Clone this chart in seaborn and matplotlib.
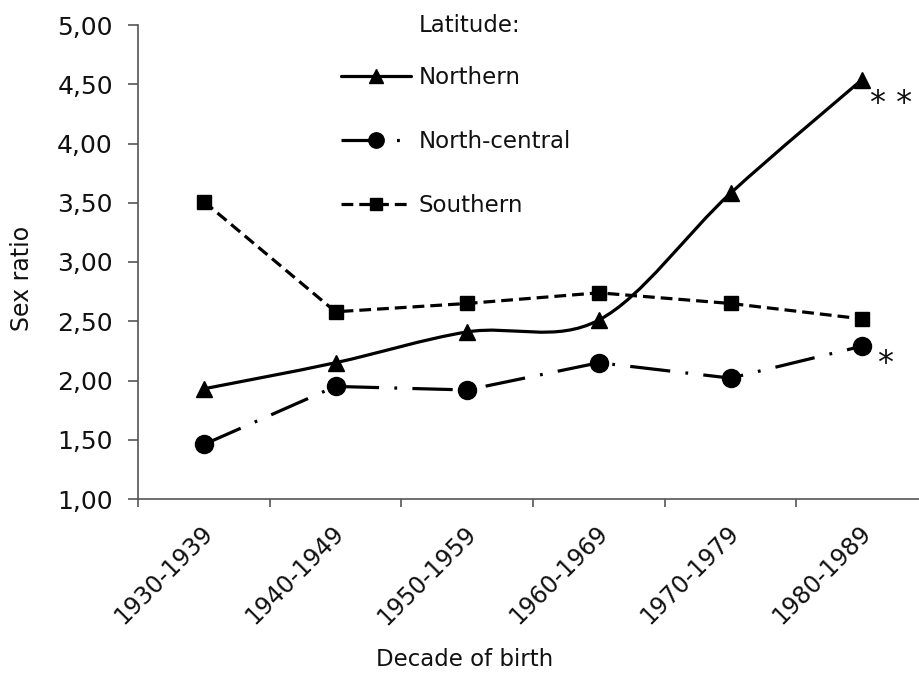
import numpy as np
import pandas as pd
import matplotlib
matplotlib.use("Agg")
import matplotlib.pyplot as plt
import seaborn as sns
from matplotlib.path import Path
from matplotlib.patches import PathPatch
from matplotlib.lines import Line2D
from matplotlib.ticker import FixedLocator, FixedFormatter, NullFormatter, FuncFormatter
import matplotlib.transforms as mtransforms

# ---- data ----
decades = ["1930-1939", "1940-1949", "1950-1959", "1960-1969", "1970-1979", "1980-1989"]
northern = [1.93, 2.15, 2.41, 2.51, 3.58, 4.54]
north_central = [1.46, 1.95, 1.92, 2.15, 2.02, 2.29]
southern = [3.51, 2.58, 2.65, 2.74, 2.65, 2.52]
series_names = ["Northern", "North-central", "Southern"]
yticks = [1.0, 1.5, 2.0, 2.5, 3.0, 3.5, 4.0, 4.5, 5.0]
legend_title = "Latitude:"
xlabel = "Decade of birth"
ylabel = "Sex ratio"
sig_northern = "* *"
sig_north_central = "*"

sns.set_theme(style="ticks")
plt.rcParams["font.family"] = ["DejaVu Sans"]
plt.rcParams["lines.scale_dashes"] = False

TXT = "#111111"
W, H = 919, 673
fig = plt.figure(figsize=(W / 100, H / 100), dpi=100)
fig.patch.set_facecolor("white")
ax = fig.add_axes([138 / W, 1 - 499 / H, (928 - 138) / W, (499 - 25) / H])
ax.set_facecolor("white")

lw = 2.3
styles = {
    "Northern": dict(marker="^", markersize=12, linestyle="-"),
    "North-central": dict(marker="o", markersize=13, linestyle=(0, (29, 11, 2, 11))),
    "Southern": dict(marker="s", markersize=10, linestyle=(0, (8.5, 4.3))),
}
values = {"Northern": northern, "North-central": north_central, "Southern": southern}

for name in series_names:
    st = styles[name]
    sns.lineplot(x=decades, y=values[name], ax=ax, sort=False, color="black",
                 linewidth=lw, marker=st["marker"], markersize=st["markersize"],
                 linestyle=st["linestyle"], markeredgecolor="black",
                 markerfacecolor="black", markeredgewidth=1, zorder=3)

# Northern: smoothed line (Excel-style smoothing) instead of straight segments
north_line = ax.get_lines()[0]
north_line.set_linestyle("None")
xs = np.arange(len(decades), dtype=float)
ys = np.asarray(northern, dtype=float)
pts = np.column_stack([xs, ys])
verts = [tuple(pts[0])]
codes = [Path.MOVETO]
n = len(pts)
for i in range(n - 1):
    p_prev = pts[i - 1] if i > 0 else pts[i]
    p0, p1 = pts[i], pts[i + 1]
    p_next = pts[i + 2] if i + 2 < n else pts[i + 1]
    c1 = p0 + (p1 - p_prev) / 6.0
    c2 = p1 - (p_next - p0) / 6.0
    verts += [tuple(c1), tuple(c2), tuple(p1)]
    codes += [Path.CURVE4] * 3
ax.add_patch(PathPatch(Path(verts, codes), fill=False, edgecolor="black",
                       linewidth=lw, zorder=2.5, capstyle="round"))

# axes styling
ax.set_ylim(1, 5)
ax.set_xlim(-0.5, 5.5)
ax.yaxis.set_major_locator(FixedLocator(yticks))
ax.yaxis.set_major_formatter(FuncFormatter(lambda v, p: f"{v:.2f}".replace(".", ",")))
ax.xaxis.set_major_locator(FixedLocator(np.arange(-0.5, 6.0, 1.0)))
ax.xaxis.set_major_formatter(NullFormatter())
ax.xaxis.set_minor_locator(FixedLocator(xs))
ax.xaxis.set_minor_formatter(FixedFormatter(decades))

for side in ["top", "right"]:
    ax.spines[side].set_visible(False)
for side in ["left", "bottom"]:
    ax.spines[side].set_color("#555555")
    ax.spines[side].set_linewidth(1.2)

ax.tick_params(axis="y", which="major", direction="out", length=7, width=1.2,
               color="#555555", labelsize=18, pad=11, labelcolor=TXT)
ax.tick_params(axis="x", which="major", direction="out", length=6, width=1.2,
               color="#555555")
ax.tick_params(axis="x", which="minor", length=0, labelsize=17, pad=22,
               labelcolor=TXT)
offset = mtransforms.ScaledTranslation(0.05, 0, fig.dpi_scale_trans)
for lab in ax.xaxis.get_minorticklabels():
    lab.set_rotation(45)
    lab.set_ha("right")
    lab.set_va("center")
    lab.set_rotation_mode("anchor")
    lab.set_transform(lab.get_transform() + offset)

ax.set_xlabel("")
ax.set_ylabel("")
fig.text(465 / W, 1 - 660 / H, xlabel, ha="center", va="center", fontsize=16.5, color=TXT)
fig.text(22 / W, 1 - 278 / H, ylabel, ha="center", va="center", rotation=90,
         fontsize=17, color=TXT)

# significance markers
ax.annotate(sig_northern, xy=(xs[-1], northern[-1]), xytext=(8, -24),
            textcoords="offset pixels", ha="left", va="center", fontsize=23, color=TXT)
ax.annotate(sig_north_central, xy=(xs[-1], north_central[-1]), xytext=(15, -17),
            textcoords="offset pixels", ha="left", va="center", fontsize=23, color=TXT)

# legend
handles = [Line2D([0], [0], color="black", linewidth=lw, marker=styles[nm]["marker"],
                  markersize=styles[nm]["markersize"] * 0.85, linestyle=styles[nm]["linestyle"],
                  markeredgecolor="black", markerfacecolor="black")
           for nm in series_names]
fs_leg = 16.5
fs_px = fs_leg * 100 / 72
leg = ax.legend(handles, series_names, loc="upper left",
                bbox_to_anchor=(341 / W, 1 - 66 / H), bbox_transform=fig.transFigure,
                frameon=False, borderpad=0, borderaxespad=0, fontsize=fs_leg,
                handlelength=70 / fs_px, handletextpad=8 / fs_px,
                labelspacing=1.78)
for t in leg.get_texts():
    t.set_color(TXT)
fig.text(419 / W, 1 - 26 / H, legend_title, ha="left", va="center", fontsize=fs_leg,
         color=TXT)

fig.savefig("out.png", dpi=100, facecolor="white")
